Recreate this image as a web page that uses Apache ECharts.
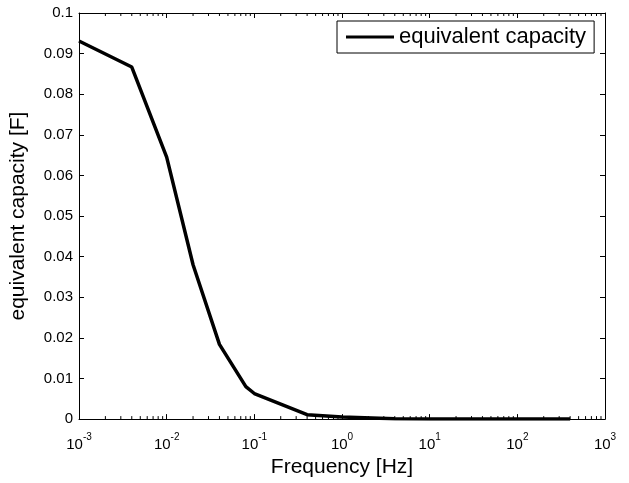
<!DOCTYPE html>
<html>
<head>
<meta charset="utf-8">
<script src="https://cdn.jsdelivr.net/npm/echarts@6/dist/echarts.min.js"></script>
<style>html,body{margin:0;padding:0;background:#fff}#c{width:629px;height:483px}</style>
</head>
<body>
<div id="c"></div>
<script>
const frequencies = [0.001, 0.004, 0.01, 0.02, 0.04, 0.08, 0.1, 0.4, 1, 4, 10, 40, 100, 400];
const capacity = [0.0931, 0.0867, 0.0645, 0.038, 0.0184, 0.0080, 0.0063, 0.0011, 0.0005, 0.0001, 0.00005, 0.00002, 0.00001, 0.00001];
const seriesName = 'equivalent capacity';
const xName = 'Frequency [Hz]';
const yName = 'equivalent capacity [F]';
const minorTickValues = [];
for (let e = -3; e < 3; e++) for (let m = 2; m <= 9; m++) minorTickValues.push(m * Math.pow(10, e));

const FONT = 'Liberation Sans, Arial, Helvetica, sans-serif';
const chart = echarts.init(document.getElementById('c'));

function expLabel(v) {
  const e = Math.round(Math.log10(v));
  return '{b|10}{s|' + e + '}';
}

chart.setOption({
  animation: false,
  backgroundColor: '#fff',
  grid: { left: 78, right: 24, top: 13, bottom: 55, show: false },
  legend: {
    left: 337, top: 21,
    data: [{ name: seriesName, icon: 'rect' }],
    itemWidth: 48, itemHeight: 3, itemGap: 5,
    borderColor: '#000', borderWidth: 1, borderRadius: 0,
    padding: [5, 8, 5, 9],
    backgroundColor: '#fff',
    textStyle: { fontFamily: FONT, fontSize: 22, color: '#000', padding: [0, 0, 0, 0] }
  },
  xAxis: [{
    type: 'log', logBase: 10, min: 0.001, max: 1000,
    name: xName, nameLocation: 'middle', nameGap: 37,
    nameTextStyle: { fontFamily: FONT, fontSize: 21, color: '#000' },
    axisLine: { show: true, onZero: false, lineStyle: { color: '#000', width: 1 } },
    axisTick: { show: true, inside: true, length: 5, lineStyle: { color: '#000' } },
    splitLine: { show: false },
    axisLabel: {
      margin: 10, color: '#000', fontFamily: FONT,
      formatter: expLabel,
      rich: {
        b: { fontSize: 15, fontFamily: FONT, color: '#000', padding: [8, 0, 0, 0] },
        s: { fontSize: 10, fontFamily: FONT, color: '#000', padding: [0, 0, 6, 0] }
      }
    }
  }, {
    type: 'log', logBase: 10, min: 0.001, max: 1000, position: 'top',
    axisLine: { show: true, onZero: false, lineStyle: { color: '#000', width: 1 } },
    axisTick: { show: true, inside: true, length: 5, lineStyle: { color: '#000' } },
    axisLabel: { show: false }, splitLine: { show: false }
  }],
  yAxis: [{
    type: 'value', min: 0, max: 0.1, interval: 0.01,
    name: yName, nameLocation: 'middle', nameGap: 50,
    nameTextStyle: { fontFamily: FONT, fontSize: 21, color: '#000' },
    axisLine: { show: true, lineStyle: { color: '#000', width: 1 } },
    axisTick: { show: true, inside: true, length: 5, lineStyle: { color: '#000' } },
    splitLine: { show: false },
    axisLabel: {
      margin: 6, color: '#000', fontFamily: FONT, fontSize: 15,
      formatter: v => (Math.round(v * 100) / 100).toString()
    }
  }, {
    type: 'value', min: 0, max: 0.1, interval: 0.01, position: 'right',
    axisLine: { show: true, lineStyle: { color: '#000', width: 1 } },
    axisTick: { show: true, inside: true, length: 5, lineStyle: { color: '#000' } },
    axisLabel: { show: false }, splitLine: { show: false }
  }],
  series: [{
    name: seriesName,
    type: 'line',
    xAxisIndex: 0, yAxisIndex: 0,
    data: frequencies.map((f, i) => [f, capacity[i]]),
    symbol: 'none', showSymbol: false,
    lineStyle: { color: '#000', width: 3.5 },
    itemStyle: { color: '#000' },
    z: 5
  }, {
    type: 'custom',
    xAxisIndex: 0, yAxisIndex: 0,
    silent: true,
    clip: false,
    data: minorTickValues.map(v => [v, 0]),
    renderItem: function (params, api) {
      const v = api.value(0);
      const b = api.coord([v, 0]);
      const t = api.coord([v, 0.1]);
      return {
        type: 'group',
        children: [
          { type: 'line', shape: { x1: b[0], y1: b[1], x2: b[0], y2: b[1] - 3 }, style: { stroke: '#000', lineWidth: 1 } },
          { type: 'line', shape: { x1: t[0], y1: t[1], x2: t[0], y2: t[1] + 3 }, style: { stroke: '#000', lineWidth: 1 } }
        ]
      };
    },
    z: 3
  }]
});
</script>
</body>
</html>
